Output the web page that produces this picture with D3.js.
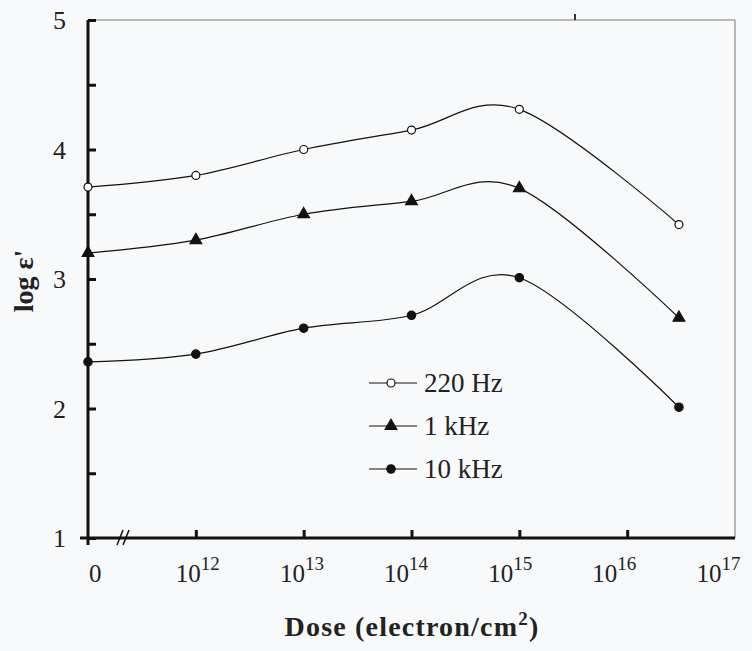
<!DOCTYPE html>
<html>
<head>
<meta charset="utf-8">
<script src="https://cdn.jsdelivr.net/npm/d3@7"></script>
<style>
  body { margin: 0; background: #f8f9fa; }
  svg { display: block; }
</style>
</head>
<body>
<div id="chart"></div>
<script>
// log10 of dose, 11 stands for the "0" (unirradiated) position
const doses = [11, 12, 13, 14, 15, 16.48]
const serie220 = [3.71, 3.8, 4.0, 4.15, 4.31, 3.42]
const serie1k = [3.2, 3.3, 3.5, 3.6, 3.7, 2.7]
const serie10k = [2.36, 2.42, 2.62, 2.72, 3.01, 2.01]
const nombres = ["220 Hz", "1 kHz", "10 kHz"]
const ticksX = [11, 12, 13, 14, 15, 16, 17]
const etiquetasX = ["0", "12", "13", "14", "15", "16", "17"]
const ticksY = [1, 2, 3, 4, 5]

const ancho = 752
const alto = 651
const margen = { izquierdo: 88, derecho: 17, superior: 20, inferior: 113 }

const svg = d3.select("#chart").append("svg").attr("width", ancho).attr("height", alto)
svg.append("rect").attr("width", ancho).attr("height", alto).attr("fill", "#f8f9fa")

const x = d3.scaleLinear().domain([11, 17]).range([margen.izquierdo, ancho - margen.derecho])
const y = d3.scaleLinear().domain([1, 5]).range([alto - margen.inferior, margen.superior])

const fuente = "'Times New Roman', 'Liberation Serif', Times, serif"

// marco fino superior y derecho
svg.append("path")
    .attr("d", `M${x(11)},${y(5)}H${x(17)}V${y(1)}`)
    .attr("fill", "none").attr("stroke", "#777").attr("stroke-width", 1)
svg.append("line").attr("x1", 575).attr("x2", 575).attr("y1", y(5) - 6).attr("y2", y(5))
    .attr("stroke", "#333").attr("stroke-width", 2)

// ejes
const ejeX = d3.axisTop(x).tickValues(ticksX.slice(1, 6)).tickSize(8).tickFormat("")
svg.append("g").attr("transform", `translate(0, ${y(1)})`).call(ejeX)
    .call(g => g.select(".domain").remove())
    .call(g => g.selectAll("line").attr("stroke", "#111").attr("stroke-width", 3))

const ejeY = d3.axisRight(y).ticks(8).tickSize(8).tickFormat("")
svg.append("g").attr("transform", `translate(${x(11)}, 0)`).call(ejeY)
    .call(g => g.select(".domain").remove())
    .call(g => g.selectAll("line").attr("stroke", "#111").attr("stroke-width", 3))

svg.append("line").attr("x1", x(11) - 8).attr("x2", x(17)).attr("y1", y(1)).attr("y2", y(1))
    .attr("stroke", "#111").attr("stroke-width", 3)
svg.append("line").attr("x1", x(11)).attr("x2", x(11)).attr("y1", y(5)).attr("y2", y(1) + 7)
    .attr("stroke", "#111").attr("stroke-width", 3)

// marca de corte
;[0, 6].forEach(d => {
    svg.append("line")
        .attr("x1", 117 + d).attr("y1", y(1) + 7)
        .attr("x2", 123 + d).attr("y2", y(1) - 8)
        .attr("stroke", "#111").attr("stroke-width", 1.5)
})

// etiquetas eje Y
svg.selectAll(".ty").data(ticksY).enter().append("text")
    .attr("x", 66).attr("y", d => y(d) + 9)
    .attr("text-anchor", "end")
    .attr("font-family", fuente).attr("font-size", 26).attr("fill", "#222")
    .text(d => d)

// etiquetas eje X
const tx = svg.selectAll(".tx").data(ticksX).enter().append("text")
    .attr("y", 582)
    .attr("font-family", fuente).attr("font-size", 25).attr("fill", "#222")
tx.each(function (d, i) {
    const t = d3.select(this)
    if (i === 0) {
        t.attr("x", x(d) + 1).text("0")
    } else {
        t.attr("x", x(d) - 20 - (d - 12) * 3.7)
        t.append("tspan").text("10")
        t.append("tspan").attr("dy", -12).attr("font-size", 19).text(etiquetasX[i])
    }
})

// títulos
const tituloX = svg.append("text").attr("x", 412).attr("y", 636)
    .attr("text-anchor", "middle").attr("font-family", fuente)
    .attr("font-size", 28).attr("font-weight", "bold").attr("fill", "#222")
    .attr("letter-spacing", 1.2)
tituloX.append("tspan").text("Dose (electron/cm")
tituloX.append("tspan").attr("dy", -11).attr("font-size", 19).text("2")
tituloX.append("tspan").attr("dy", 11).text(")")

svg.append("text").attr("transform", "translate(33, 281) rotate(-90)")
    .attr("text-anchor", "middle").attr("font-family", fuente)
    .attr("font-size", 28).attr("font-weight", "bold").attr("fill", "#222")
    .text("log ε'")

// series
const series = [serie220, serie1k, serie10k]
const linea = d3.line().x(d => x(d[0])).y(d => y(d[1])).curve(d3.curveCatmullRom.alpha(0))

const simbolo = [
    d3.symbol().type(d3.symbolCircle).size(50),
    d3.symbol().type(d3.symbolTriangle).size(60),
    d3.symbol().type(d3.symbolCircle).size(55)
]
const rellenos = ["#fff", "#111", "#111"]

series.forEach((serie, k) => {
    const puntos = doses.map((d, i) => [d, serie[i]])
    svg.append("path").datum(puntos).attr("d", linea)
        .attr("fill", "none").attr("stroke", "#111").attr("stroke-width", 1.2)
    svg.selectAll(".p" + k).data(puntos).enter().append("path")
        .attr("transform", d => `translate(${x(d[0])}, ${y(d[1])})`)
        .attr("d", simbolo[k])
        .attr("fill", rellenos[k]).attr("stroke", "#111").attr("stroke-width", 1.2)
})

// leyenda
const leyenda = svg.append("g").attr("transform", "translate(369, 383)")
nombres.forEach((n, k) => {
    const fila = leyenda.append("g").attr("transform", `translate(0, ${k * 43})`)
    fila.append("line").attr("x1", 0).attr("x2", 48).attr("stroke", "#111").attr("stroke-width", 1.2)
    fila.append("path").attr("transform", "translate(22, 0)").attr("d", simbolo[k])
        .attr("fill", rellenos[k]).attr("stroke", "#111").attr("stroke-width", 1.2)
    fila.append("text").attr("x", 55).attr("y", 9)
        .attr("font-family", fuente).attr("font-size", 27).attr("fill", "#222")
        .text(n)
})
</script>
</body>
</html>
